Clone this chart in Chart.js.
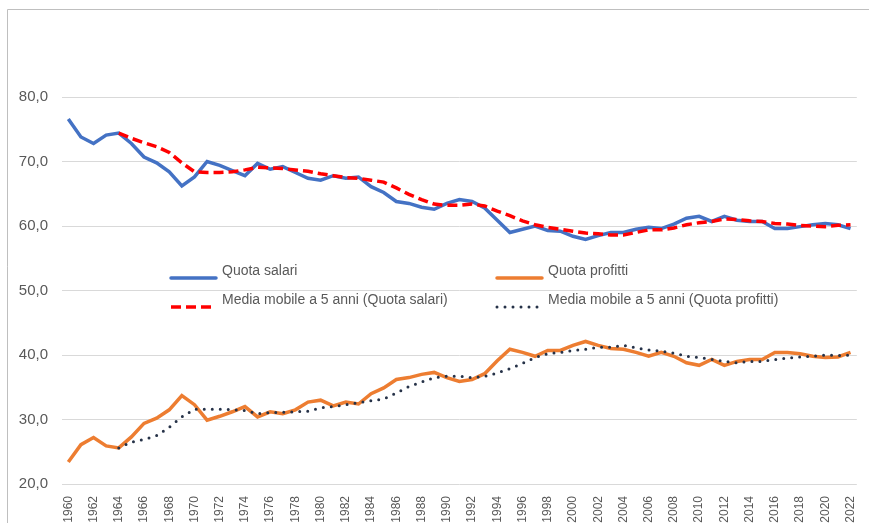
<!DOCTYPE html>
<html lang="it">
<head>
  <meta charset="UTF-8">
  <title>Quota salari e quota profitti</title>
  <script src="https://cdn.jsdelivr.net/npm/chart.js"></script>
  <style>
    html, body {
      margin: 0;
      background: #fff;
      overflow: hidden;
    }

    canvas {
      display: block;
    }
  </style>
</head>
<body>
<canvas id="chart" width="869" height="523"></canvas>

<script>
  // anni 1960-2022
  const years = [];
  for (let y = 1960; y <= 2022; y++) years.push(String(y));

  const quotaSalari = [
    76.6, 73.8, 72.8, 74.1, 74.4, 72.8, 70.7, 69.8, 68.4, 66.2,
    67.6, 70.0, 69.4, 68.6, 67.8, 69.7, 68.8, 69.2, 68.3, 67.4,
    67.1, 67.8, 67.4, 67.6, 66.1, 65.2, 63.8, 63.5, 62.9, 62.6,
    63.5, 64.1, 63.8, 62.8, 60.9, 59.0, 59.5, 60.0, 59.3, 59.2,
    58.4, 57.9, 58.5, 59.0, 59.0, 59.5, 59.8, 59.6, 60.3, 61.2,
    61.5, 60.7, 61.5, 60.9, 60.7, 60.7, 59.6, 59.6, 59.9, 60.2,
    60.4, 60.2, 59.6
  ];

  const mediaSalari = [
    null, null, null, null, 74.4, 73.6, 72.9, 72.3, 71.4, 69.8,
    68.4, 68.3, 68.3, 68.4, 68.7, 69.1, 69.0, 68.9, 68.7, 68.5,
    68.1, 67.8, 67.5, 67.4, 67.1, 66.8, 65.9, 64.9, 64.1, 63.4,
    63.2, 63.2, 63.4, 63.1, 62.3, 61.6, 60.8, 60.2, 59.8, 59.5,
    59.2, 58.9, 58.8, 58.6, 58.6, 59.0, 59.4, 59.4, 59.7, 60.2,
    60.5, 60.7, 61.1, 61.0, 60.8, 60.7, 60.4, 60.3, 60.1, 60.0,
    59.9, 60.1, 60.2
  ];

  const quotaProfitti = [
    23.4, 26.1, 27.2, 25.9, 25.6, 27.3, 29.4, 30.2, 31.5, 33.7,
    32.3, 29.9, 30.5, 31.2, 32.0, 30.4, 31.2, 30.9, 31.5, 32.7,
    33.0, 32.1, 32.7, 32.4, 34.0, 34.9, 36.2, 36.5, 37.0, 37.3,
    36.5, 35.9, 36.2, 37.1, 39.1, 40.9, 40.4, 39.8, 40.7, 40.7,
    41.5, 42.1, 41.5, 41.0, 40.9, 40.4, 39.8, 40.4, 39.8, 38.8,
    38.4, 39.3, 38.4, 39.0, 39.3, 39.3, 40.4, 40.4, 40.2, 39.8,
    39.6, 39.7, 40.4
  ];

  const mediaProfitti = [
    null, null, null, null, 25.6, 26.5, 26.9, 27.5, 28.8, 30.4,
    31.6, 31.6, 31.6, 31.5, 31.4, 30.9, 31.1, 31.1, 31.2, 31.3,
    31.8, 32.0, 32.3, 32.6, 32.9, 33.2, 34.1, 35.1, 35.8, 36.5,
    36.7, 36.7, 36.5, 36.7, 37.2, 37.9, 38.7, 39.6, 40.2, 40.4,
    40.7, 40.9, 41.2, 41.2, 41.5, 41.1, 40.8, 40.6, 40.3, 39.8,
    39.6, 39.3, 39.0, 38.8, 39.0, 39.0, 39.3, 39.5, 39.7, 39.8,
    40.0, 39.9, 40.0
  ];

  const yTicks = [20, 30, 40, 50, 60, 70, 80];

  const textColor = '#595959';
  const fontFamily = '"Liberation Sans", Arial, sans-serif';

  // cornice: solo lato sinistro e superiore
  const frame = {
    id: 'frame',
    beforeDraw(chart) {
      const c = chart.ctx;
      c.save();
      c.strokeStyle = '#bfbfbf';
      c.lineWidth = 1;
      c.beginPath();
      c.moveTo(7.5, chart.height);
      c.lineTo(7.5, 9.5);
      c.lineTo(chart.width, 9.5);
      c.stroke();
      c.restore();
    }
  };

  // legenda disegnata dentro l'area del grafico, come nell'originale
  const legendItems = [
    { text: 'Quota salari', x: 171, y: 278, color: '#4472C4', dash: [], cap: 'round', width: 3.5 },
    { text: 'Quota profitti', x: 497, y: 278, color: '#ED7D31', dash: [], cap: 'round', width: 3.5 },
    { text: 'Media mobile a 5 anni (Quota salari)', x: 171, y: 307, color: '#FF0000', dash: [10, 5], cap: 'butt', width: 3.5 },
    { text: 'Media mobile a 5 anni (Quota profitti)', x: 497, y: 307, color: '#263248', dash: [0, 8], cap: 'round', width: 3 }
  ];

  const innerLegend = {
    id: 'innerLegend',
    afterDatasetsDraw(chart) {
      const ctx = chart.ctx;
      ctx.save();
      legendItems.forEach(item => {
        ctx.beginPath();
        ctx.strokeStyle = item.color;
        ctx.lineWidth = item.width;
        ctx.lineCap = item.cap;
        ctx.setLineDash(item.dash);
        ctx.moveTo(item.x, item.y);
        ctx.lineTo(item.x + 45, item.y);
        ctx.stroke();
        ctx.setLineDash([]);
        ctx.fillStyle = textColor;
        ctx.font = '14px ' + fontFamily;
        ctx.textBaseline = 'alphabetic';
        ctx.fillText(item.text, item.x + 51, item.y - 3);
      });
      ctx.restore();
    }
  };

  const ctx = document.getElementById('chart').getContext('2d');
  new Chart(ctx, {
    type: 'line',
    data: {
      labels: years,
      datasets: [
        {
          label: 'Quota salari',
          data: quotaSalari,
          borderColor: '#4472C4',
          borderWidth: 3.5,
          pointRadius: 0,
          tension: 0,
          order: 2
        },
        {
          label: 'Quota profitti',
          data: quotaProfitti,
          borderColor: '#ED7D31',
          borderWidth: 3.5,
          pointRadius: 0,
          tension: 0,
          order: 2
        },
        {
          label: 'Media mobile a 5 anni (Quota salari)',
          data: mediaSalari,
          borderColor: '#FF0000',
          borderWidth: 3.5,
          borderDash: [10, 5],
          pointRadius: 0,
          tension: 0,
          order: 1
        },
        {
          label: 'Media mobile a 5 anni (Quota profitti)',
          data: mediaProfitti,
          borderColor: '#263248',
          borderWidth: 3,
          borderDash: [0, 8],
          borderCapStyle: 'round',
          pointRadius: 0,
          tension: 0,
          order: 1
        }
      ]
    },
    options: {
      responsive: false,
      animation: false,
      layout: { padding: { top: 97, right: 11, left: 0, bottom: 0 } },
      plugins: {
        legend: { display: false },
        tooltip: { enabled: false }
      },
      scales: {
        x: {
          offset: true,
          grid: { display: false },
          border: { display: false },
          ticks: {
            autoSkip: false,
            minRotation: 90,
            maxRotation: 90,
            padding: 4,
            color: textColor,
            font: { family: fontFamily, size: 12 },
            callback: (v, i) => (i % 2 === 0 ? years[i] : '')
          },
          afterFit: s => { s.height = 39; }
        },
        y: {
          min: yTicks[0],
          max: yTicks[yTicks.length - 1],
          afterBuildTicks: s => { s.ticks = yTicks.map(v => ({ value: v })); },
          grid: { color: '#d9d9d9', lineWidth: 1, drawTicks: false },
          border: { display: false },
          ticks: {
            padding: 14,
            color: textColor,
            font: { family: fontFamily, size: 15 },
            callback: v => v.toFixed(1).replace('.', ',')
          },
          afterFit: s => { s.width = 62; }
        }
      }
    },
    plugins: [frame, innerLegend]
  });
</script>
</body>
</html>
